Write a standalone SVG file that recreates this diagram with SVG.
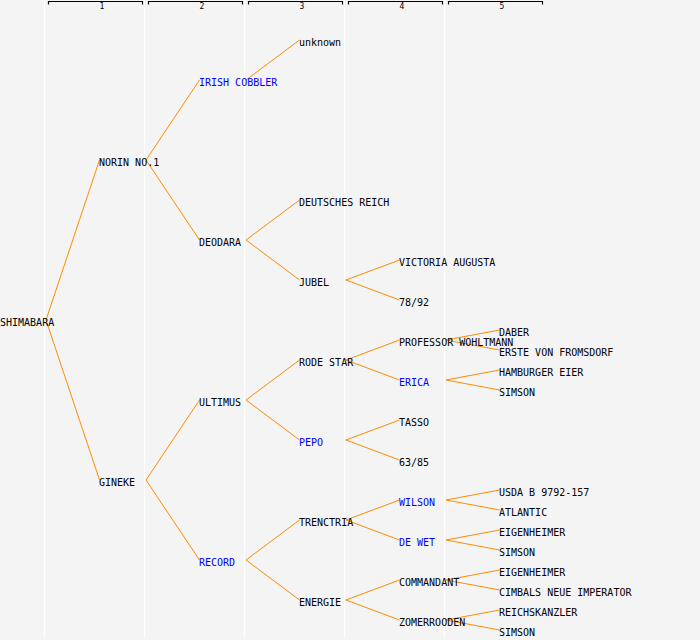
<svg xmlns="http://www.w3.org/2000/svg" width="700" height="640" viewBox="0 0 700 640">
<style>
.bg{fill:#f4f4f4}
.col{stroke:#ffffff;stroke-width:1.3}
.br{fill:none;stroke:#000;stroke-width:1.2}
.hd{font-family:"DejaVu Sans Mono","Liberation Mono",monospace;font-size:8px;fill:#000;text-anchor:middle}
text.n{font-family:"DejaVu Sans Mono","Liberation Mono",monospace;font-size:10px;fill:#000}
text.b{fill:#0000ff}
#connectors path{fill:none;stroke:#ff8c00;stroke-width:1}
</style>
<rect class="bg" x="0" y="0" width="700" height="640"/>
<g id="columns">
<line class="col" x1="44.5" y1="0" x2="44.5" y2="637"/>
<line class="col" x1="144.5" y1="0" x2="144.5" y2="637"/>
<line class="col" x1="244.5" y1="0" x2="244.5" y2="637"/>
<line class="col" x1="344.5" y1="0" x2="344.5" y2="637"/>
<line class="col" x1="444.5" y1="0" x2="444.5" y2="637"/>
</g>
<g id="header">
<path class="br" d="M48.5,4.5V1.5H142.5V4.5"/>
<path class="br" d="M148.5,4.5V1.5H242.5V4.5"/>
<path class="br" d="M248.5,4.5V1.5H342.5V4.5"/>
<path class="br" d="M348.5,4.5V1.5H442.5V4.5"/>
<path class="br" d="M448.5,4.5V1.5H542.5V4.5"/>
<text class="hd" x="102" y="9">1</text>
<text class="hd" x="202" y="9">2</text>
<text class="hd" x="302" y="9">3</text>
<text class="hd" x="402" y="9">4</text>
<text class="hd" x="502" y="9">5</text>
</g>
<g id="connectors">
<path d="M46,320L99.5,160"/>
<path d="M46,320L99.5,480"/>
<path d="M146,160L199.5,80"/>
<path d="M146,160L199.5,240"/>
<path d="M146,480L199.5,400"/>
<path d="M146,480L199.5,560"/>
<path d="M246,80L299.5,40"/>
<path d="M246,240L299.5,200"/>
<path d="M246,240L299.5,280"/>
<path d="M246,400L299.5,360"/>
<path d="M246,400L299.5,440"/>
<path d="M246,560L299.5,520"/>
<path d="M246,560L299.5,600"/>
<path d="M346,280L399.5,260"/>
<path d="M346,280L399.5,300"/>
<path d="M346,360L399.5,340"/>
<path d="M346,360L399.5,380"/>
<path d="M346,440L399.5,420"/>
<path d="M346,440L399.5,460"/>
<path d="M346,520L399.5,500"/>
<path d="M346,520L399.5,540"/>
<path d="M346,600L399.5,580"/>
<path d="M346,600L399.5,620"/>
<path d="M446,340L499.5,330"/>
<path d="M446,340L499.5,350"/>
<path d="M446,380L499.5,370"/>
<path d="M446,380L499.5,390"/>
<path d="M446,500L499.5,490"/>
<path d="M446,500L499.5,510"/>
<path d="M446,540L499.5,530"/>
<path d="M446,540L499.5,550"/>
<path d="M446,580L499.5,570"/>
<path d="M446,580L499.5,590"/>
<path d="M446,620L499.5,610"/>
<path d="M446,620L499.5,630"/>
</g>
<g id="n-shimabara"><text class="n" x="0" y="326">SHIMABARA</text></g>
<g id="n-norin"><text class="n" x="99" y="166">NORIN NO.1</text></g>
<g id="n-gineke"><text class="n" x="99" y="486">GINEKE</text></g>
<g id="n-irish"><text class="n b" x="199" y="86">IRISH COBBLER</text></g>
<g id="n-deodara"><text class="n" x="199" y="246">DEODARA</text></g>
<g id="n-ultimus"><text class="n" x="199" y="406">ULTIMUS</text></g>
<g id="n-record"><text class="n b" x="199" y="566">RECORD</text></g>
<g id="n-unknown"><text class="n" x="299" y="46">unknown</text></g>
<g id="n-deutsches"><text class="n" x="299" y="206">DEUTSCHES REICH</text></g>
<g id="n-jubel"><text class="n" x="299" y="286">JUBEL</text></g>
<g id="n-rodestar"><text class="n" x="299" y="366">RODE STAR</text></g>
<g id="n-pepo"><text class="n b" x="299" y="446">PEPO</text></g>
<g id="n-trenctria"><text class="n" x="299" y="526">TRENCTRIA</text></g>
<g id="n-energie"><text class="n" x="299" y="606">ENERGIE</text></g>
<g id="n-victoria"><text class="n" x="399" y="266">VICTORIA AUGUSTA</text></g>
<g id="n-7892"><text class="n" x="399" y="306">78/92</text></g>
<g id="n-professor"><text class="n" x="399" y="346">PROFESSOR WOHLTMANN</text></g>
<g id="n-erica"><text class="n b" x="399" y="386">ERICA</text></g>
<g id="n-tasso"><text class="n" x="399" y="426">TASSO</text></g>
<g id="n-6385"><text class="n" x="399" y="466">63/85</text></g>
<g id="n-wilson"><text class="n b" x="399" y="506">WILSON</text></g>
<g id="n-dewet"><text class="n b" x="399" y="546">DE WET</text></g>
<g id="n-commandant"><text class="n" x="399" y="586">COMMANDANT</text></g>
<g id="n-zomerrooden"><text class="n" x="399" y="626">ZOMERROODEN</text></g>
<g id="n-daber"><text class="n" x="499" y="336">DABER</text></g>
<g id="n-erste"><text class="n" x="499" y="356">ERSTE VON FROMSDORF</text></g>
<g id="n-hamburger"><text class="n" x="499" y="376">HAMBURGER EIER</text></g>
<g id="n-simson1"><text class="n" x="499" y="396">SIMSON</text></g>
<g id="n-usda"><text class="n" x="499" y="496">USDA B 9792-157</text></g>
<g id="n-atlantic"><text class="n" x="499" y="516">ATLANTIC</text></g>
<g id="n-eigen1"><text class="n" x="499" y="536">EIGENHEIMER</text></g>
<g id="n-simson2"><text class="n" x="499" y="556">SIMSON</text></g>
<g id="n-eigen2"><text class="n" x="499" y="576">EIGENHEIMER</text></g>
<g id="n-cimbals"><text class="n" x="499" y="596">CIMBALS NEUE IMPERATOR</text></g>
<g id="n-reichskanzler"><text class="n" x="499" y="616">REICHSKANZLER</text></g>
<g id="n-simson3"><text class="n" x="499" y="636">SIMSON</text></g>
</svg>
